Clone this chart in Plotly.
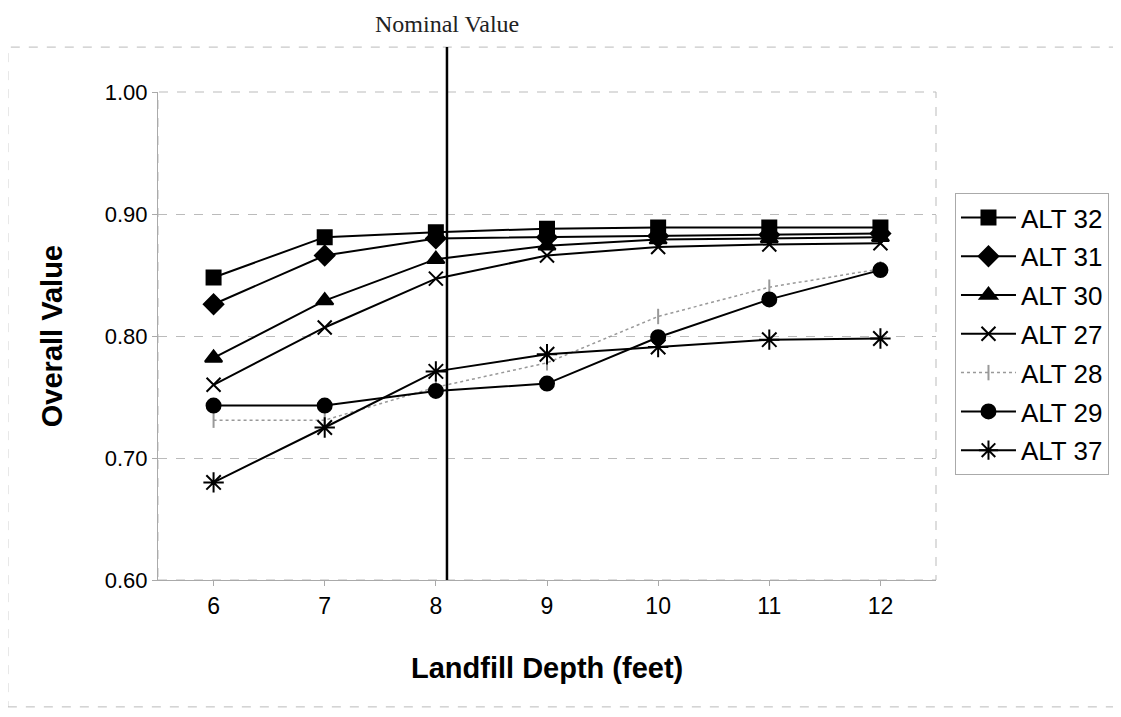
import plotly.graph_objects as go

depth = [6, 7, 8, 9, 10, 11, 12]
alt32 = [0.848, 0.881, 0.885, 0.888, 0.889, 0.889, 0.889]
alt31 = [0.826, 0.866, 0.880, 0.881, 0.882, 0.883, 0.884]
alt30 = [0.782, 0.829, 0.863, 0.874, 0.879, 0.880, 0.881]
alt27 = [0.760, 0.807, 0.847, 0.866, 0.873, 0.875, 0.876]
alt28 = [0.731, 0.731, 0.758, 0.778, 0.816, 0.840, 0.855]
alt29 = [0.743, 0.743, 0.755, 0.761, 0.799, 0.830, 0.854]
alt37 = [0.680, 0.725, 0.771, 0.785, 0.791, 0.797, 0.798]
nominal_depth = 8.1
y_ticks = [0.60, 0.70, 0.80, 0.90, 1.00]

series = [
    ("ALT 32", alt32, "square", 14, "black", "solid", 2),
    ("ALT 31", alt31, "diamond", 15, "black", "solid", 2),
    ("ALT 30", alt30, "triangle-up", 15, "black", "solid", 2),
    ("ALT 27", alt27, "x-thin-open", 14, "black", "solid", 2),
    ("ALT 28", alt28, "line-ns-open", 11, "#999999", "dot", 1.5),
    ("ALT 29", alt29, "circle", 14, "black", "solid", 2),
    ("ALT 37", alt37, "asterisk-open", 17, "black", "solid", 2),
]

fig = go.Figure()
for name, vals, sym, size, col, dash, w in series:
    fig.add_trace(go.Scatter(
        x=depth, y=vals, name=name, legendgroup=name, mode="lines+markers",
        line=dict(color=col, width=w, dash=dash),
        marker=dict(symbol=sym, size=size, color=col,
                    line=dict(color=col, width=2)),
    ))

fig.add_shape(type="line", xref="x", yref="paper",
              x0=nominal_depth, x1=nominal_depth, y0=0, y1=1.092,
              line=dict(color="black", width=2.5))
fig.add_annotation(x=nominal_depth, xref="x", y=1.140, yref="paper",
                   xanchor="center", yanchor="middle",
                   text="Nominal Value", showarrow=False,
                   font=dict(family="Liberation Serif, Times New Roman, serif",
                             size=24, color="#222"))
fig.add_annotation(x=0.5, xref="paper", y=-0.18, yref="paper",
                   xanchor="center", yanchor="middle",
                   text="<b>Landfill Depth (feet)</b>", showarrow=False,
                   font=dict(size=29, color="black"))
fig.add_annotation(x=-0.136, xref="paper", y=0.5, yref="paper",
                   xanchor="center", yanchor="middle",
                   text="<b>Overall Value</b>", showarrow=False, textangle=-90,
                   font=dict(size=29, color="black"))
fig.add_shape(type="rect", xref="paper", yref="paper",
              x0=-0.193, x1=1.230, y0=-0.260, y1=1.092,
              line=dict(color="#bbbbbb", width=1, dash="dash"), layer="below")
fig.add_shape(type="rect", xref="paper", yref="paper", x0=0, x1=1, y0=0, y1=1,
              line=dict(color="#bbbbbb", width=1, dash="dash"), layer="below")

fig.update_layout(
    width=1113, height=709,
    margin=dict(l=150, r=185, t=84, b=137),
    paper_bgcolor="white", plot_bgcolor="white",
    font=dict(family="Liberation Sans, Arial, sans-serif", size=22, color="black"),
    showlegend=True,
    legend=dict(x=1.0244, y=0.793, xanchor="left", yanchor="top",
                bordercolor="#aaaaaa", borderwidth=1,
                font=dict(size=26), tracegroupgap=2, itemwidth=55),
    xaxis=dict(range=[5.5, 12.5], tickvals=depth, ticktext=[str(d) for d in depth],
               showgrid=False, zeroline=False,
               showline=True, linecolor="#aaaaaa", linewidth=1,
               ticks="outside", ticklen=5, tickcolor="#aaaaaa",
               tickfont=dict(size=23)),
    yaxis=dict(range=[0.60, 1.00], tickvals=y_ticks, tickformat=".2f",
               showgrid=True, gridcolor="#bbbbbb", griddash="dash", gridwidth=1,
               zeroline=False, showline=True, linecolor="#aaaaaa", linewidth=1,
               ticks="outside", ticklen=5, tickcolor="#aaaaaa",
               tickfont=dict(size=22)),
)

fig.write_html("out.html")
